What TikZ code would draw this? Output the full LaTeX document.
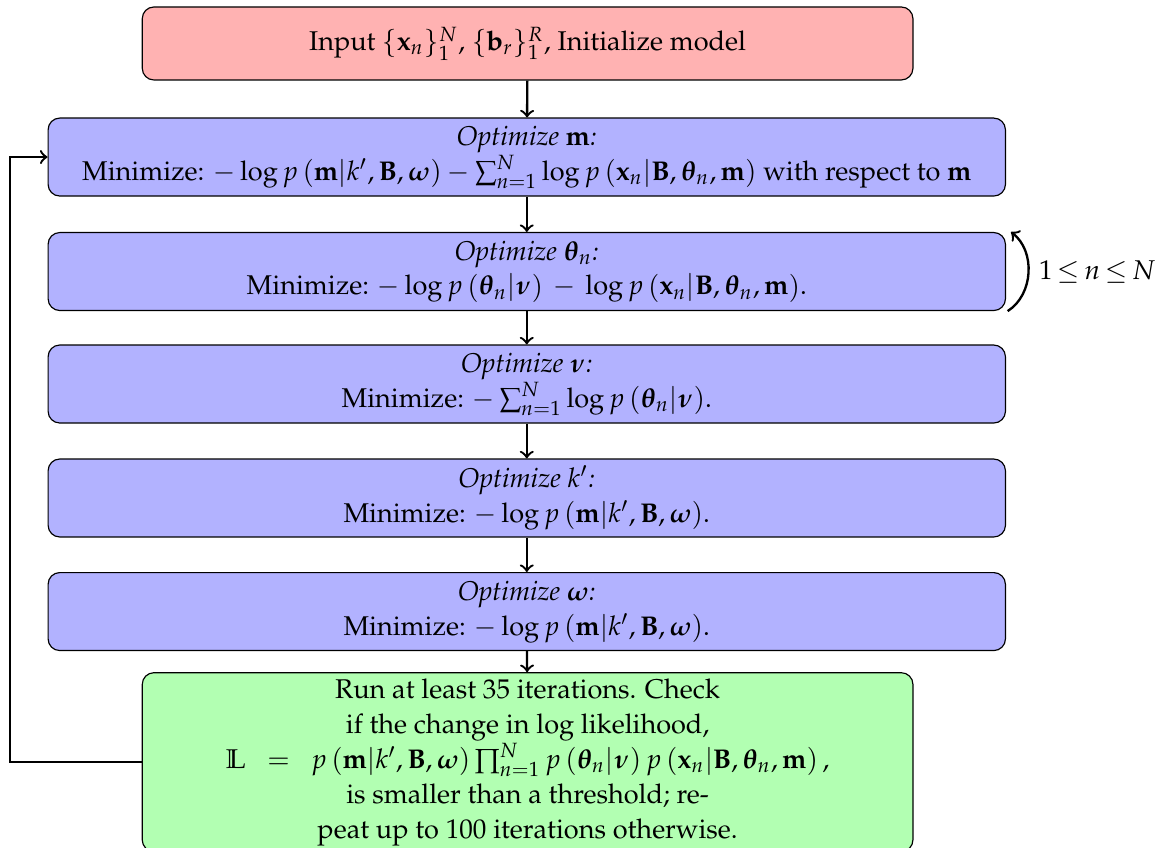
\documentclass[tikz,border=0pt]{standalone}
\usepackage[T1]{fontenc}
\usepackage{mathpazo}
\usepackage{amsmath,amssymb,bm}
\usepackage{tikz}
\usetikzlibrary{positioning,calc}
\usepackage{xcolor}

\tikzset{
  stage/.style={rectangle,rounded corners,draw,fill=blue!30,minimum width=11.54cm,minimum height=0.94cm,align=center,inner sep=2pt},
  flow/.style={->,thick}
}

\begin{document}
\begin{tikzpicture}[font=\fontsize{9.3}{12}\selectfont]
\useasboundingbox (0,0) rectangle (13.935,-10.211);
\node[rectangle,rounded corners,draw,fill=red!30,minimum width=9.29cm,minimum height=0.88cm] (init) at (6.36,-0.524) {Input $\{\mathbf{x}_n\}_1^N$, $\{\mathbf{b}_r\}_1^R$, Initialize model};
\node[stage] (optm) at (6.35,-1.893) {\textit{Optimize $\mathbf{m}$:}\\ Minimize: $-\log p\left(\mathbf{m}|k',\mathbf{B},\bm{\omega}\right)-\sum_{n=1}^N\log p\left(\mathbf{x}_n|\mathbf{B},\bm{\theta}_n,\mathbf{m}\right)$ with respect to $\mathbf{m}$};
\node[stage] (optt) at (6.35,-3.273) {\textit{Optimize $\bm{\theta}_n$:}\\ Minimize: $-\log p\left(\bm{\theta}_n|\bm{\nu}\right)\,-\,\log p\left(\mathbf{x}_n|\mathbf{B},\bm{\theta}_n,\mathbf{m}\right)$.};
\node[stage] (optnu) at (6.35,-4.629) {\textit{Optimize $\bm{\nu}$:}\\ Minimize: $-\sum_{n=1}^N\log p\left(\bm{\theta}_n|\bm{\nu}\right)$.};
\node[stage] (optk) at (6.35,-6.003) {\textit{Optimize $k'$:}\\ Minimize: $-\log p\left(\mathbf{m}|k',\mathbf{B},\bm{\omega}\right)$.};
\node[stage] (optw) at (6.35,-7.372) {\textit{Optimize $\bm{\omega}$:}\\ Minimize: $-\log p\left(\mathbf{m}|k',\mathbf{B},\bm{\omega}\right)$.};
\node[rectangle,rounded corners,draw,fill=green!30,minimum width=9.29cm,minimum height=2.1cm,align=center,inner sep=2pt] (check) at (6.36,-9.187) {Run at least 35 iterations. Check\\ if the change in log likelihood,\\ $\mathbb{L}\ \ =\ \ p\left(\mathbf{m}|k',\mathbf{B},\bm{\omega}\right)\prod_{n=1}^N p\left(\bm{\theta}_n|\bm{\nu}\right)p\left(\mathbf{x}_n|\mathbf{B},\bm{\theta}_n,\mathbf{m}\right),$\\ is smaller than a threshold; re-\\ peat up to 100 iterations otherwise.};
\draw[flow] (init) -- (optm);
\draw[flow] (optm) -- (optt);
\draw[flow] (optt) -- (optnu);
\draw[flow] (optnu) -- (optk);
\draw[flow] (optk) -- (optw);
\draw[flow] (optw) -- (check);
\draw[flow] (check.west) -| (0.121,-1.893) -- (optm.west);
\draw[flow] ($(optt.south east)+(0.02,0)$) to[bend right=55] node[right] (range) {$1\mkern-2mu\leq\mkern-2mu n\mkern-2mu\leq\mkern-2mu N$} ($(optt.north east)+(0.06,0)$);
\end{tikzpicture}
\end{document}
